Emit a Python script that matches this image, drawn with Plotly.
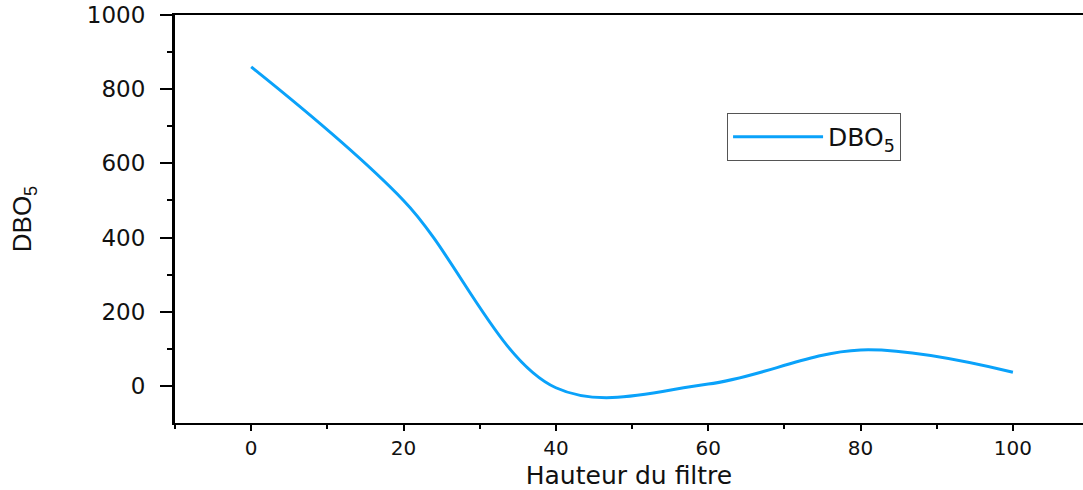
import plotly.graph_objects as go

# Filter height (cm) and measured BOD5 values
hauteur = [0, 20, 40, 60, 80, 100]
dbo5 = [860, 500, -5, 5, 97, 37]

x_ticks = [0, 20, 40, 60, 80, 100]
y_ticks = [0, 200, 400, 600, 800, 1000]

LINE_BLUE = "#0aa2fa"
FONT = "DejaVu Sans, Arial, sans-serif"

fig = go.Figure()
fig.add_trace(go.Scatter(
    x=hauteur, y=dbo5,
    mode="lines",
    line=dict(color=LINE_BLUE, width=3, shape="spline", smoothing=1.0),
    name="DBO<sub>5</sub>",
))

fig.update_layout(
    width=1083, height=490,
    margin=dict(l=175, r=0, t=15, b=65),
    plot_bgcolor="white", paper_bgcolor="white",
    showlegend=True,
    legend=dict(
        x=0.608, y=0.76, xanchor="left", yanchor="top",
        bordercolor="#555555", borderwidth=1, bgcolor="white",
        font=dict(family=FONT, size=25, color="#111111"),
        itemwidth=90,
        tracegroupgap=0,
    ),
)

fig.update_xaxes(
    range=[-10, 109.2],
    tickvals=x_ticks, ticktext=[str(v) for v in x_ticks],
    ticks="outside", ticklen=6, tickwidth=2, tickcolor="black",
    minor=dict(tickvals=[-10, 10, 30, 50, 70, 90], ticks="outside", ticklen=4, tickwidth=2, tickcolor="black"),
    showline=True, linecolor="black", linewidth=2, mirror=True,
    showgrid=False, zeroline=False,
    tickfont=dict(family=FONT, size=20, color="#111111"),
    title=dict(text="Hauteur du filtre", font=dict(family=FONT, size=25, color="#111111"), standoff=12),
)

fig.update_yaxes(
    range=[-100, 1000],
    tickvals=y_ticks, ticktext=[str(v) for v in y_ticks],
    ticks="outside", ticklen=12, tickwidth=2, tickcolor="black",
    minor=dict(tickvals=[100, 300, 500, 700, 900], ticks="outside", ticklen=5, tickwidth=2, tickcolor="black"),
    showline=True, linecolor="black", linewidth=3,
    showgrid=False, zeroline=False,
    tickfont=dict(family=FONT, size=23, color="#111111"),
    ticklabelstandoff=10,
    title=dict(text="DBO<sub>5</sub>", font=dict(family="Liberation Sans Narrow, Arial Narrow, Arial, sans-serif", size=26, color="#111111"), standoff=48),
)

fig.write_html("out.html")
